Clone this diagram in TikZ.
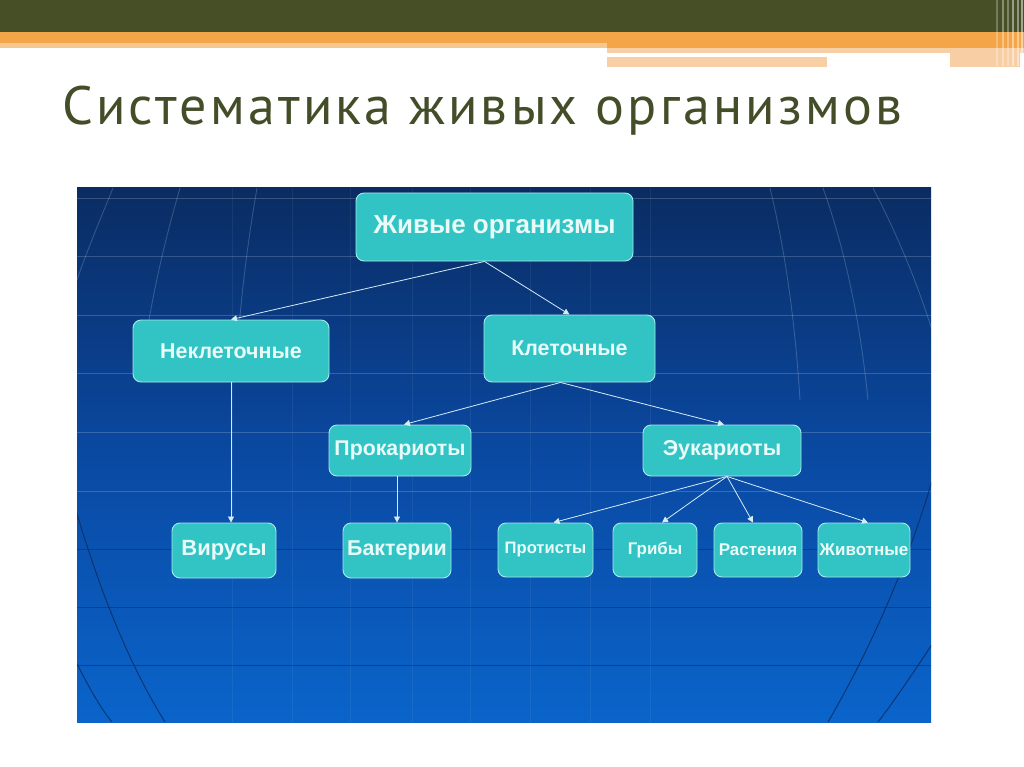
\documentclass[tikz,border=0pt]{standalone}
\usepackage{fontspec}
\usetikzlibrary{arrows.meta,calc}
\newfontfamily\titlefont[LetterSpace=6]{PT Sans}
\newfontfamily\boxfont{Liberation Sans}
\definecolor{olive}{HTML}{474F27}
\definecolor{titlecol}{HTML}{434D27}
\definecolor{orangeA}{HTML}{F4A547}
\definecolor{peach}{HTML}{F8CFA4}
\definecolor{navyTop}{HTML}{0A2C62}
\definecolor{navyMid}{HTML}{0A49A2}
\definecolor{navyBot}{HTML}{0A64CA}
\definecolor{boxfill}{HTML}{32C4C4}
\definecolor{boxline}{HTML}{A6EAEA}
\definecolor{boxtext}{HTML}{E9FBF8}
\definecolor{arrowcol}{HTML}{D6ECF4}
\tikzset{
  box/.style={draw=boxline, line width=0.9pt, fill=boxfill, rounded corners=8pt,
    text=boxtext, font=\boxfont\bfseries, inner sep=0pt, align=center},
  conn/.style={draw=arrowcol, line width=0.8pt, -{Triangle[length=6pt,width=6pt]}},
  gridlight/.style={draw=white, opacity=0.18, line width=0.9pt},
  griddark/.style={draw=navyTop, opacity=0.8, line width=1pt},
}
\begin{document}
\begin{tikzpicture}[x=1pt,y=-1pt]
\useasboundingbox (0,0) rectangle (1024,767);
\fill[white] (0,0) rectangle (1024,767);
% top bar
\fill[olive] (0,0) rectangle (1024,32);
\fill[orangeA] (0,32) rectangle (1024,43);
\fill[peach!80!orangeA] (0,43) rectangle (607,48);
\fill[orangeA] (607,43) rectangle (1024,48);
\fill[peach] (607,48) rectangle (1024,53);
\fill[peach] (607,57) rectangle (827,67);
\fill[peach] (950,53) rectangle (1020,67);
\foreach \x/\o in {997/0.25,1003/0.35,1008/0.3,1013/0.45,1018/0.4,1022/0.5}
  \draw[white, opacity=\o, line width=1.2pt] (\x,0) -- (\x,66);
% title
\node[anchor=base west, inner sep=0pt, text=titlecol, font=\titlefont\fontsize{54}{60}\selectfont]
  (title) at (62,125) {Систематика живых организмов};
% panel
\shade[top color=navyTop, bottom color=navyBot, middle color=navyMid] (77,188) rectangle (931,722);
\begin{scope}
\clip (77,188) rectangle (931,722);
\foreach \y in {198,256,315,373,432,491}
  \draw[gridlight] (77,\y) -- (931,\y);
\foreach \y in {549,607,665}
  \draw[griddark, opacity=0.5] (77,\y) -- (931,\y);
\foreach \x in {232,292,350,412,470,530,590,650}
  \draw[white, opacity=0.06, line width=0.8pt] (\x,188) -- (\x,722);
% meridians upper (light)
\draw[gridlight] (113,188) .. controls (100,220) and (85,255) .. (70,300);
\draw[gridlight] (180,188) .. controls (165,240) and (150,300) .. (140,380);
\draw[gridlight] (257,188) .. controls (248,240) and (240,300) .. (235,380);
\draw[gridlight] (770,188) .. controls (785,250) and (795,320) .. (800,400);
\draw[gridlight] (823,188) .. controls (845,250) and (860,320) .. (868,400);
\draw[gridlight] (873,188) .. controls (900,240) and (920,290) .. (935,340);
% meridians lower (dark)
\draw[griddark] (70,490) .. controls (90,560) and (120,650) .. (165,722);
\draw[griddark] (70,650) .. controls (85,680) and (98,705) .. (112,722);
\draw[griddark] (935,470) .. controls (910,560) and (870,650) .. (828,722);
\draw[griddark] (935,640) .. controls (915,670) and (895,700) .. (878,722);
\end{scope}
% nodes
\node[box, minimum width=277pt, minimum height=68pt, font=\boxfont\bfseries\fontsize{26}{29}\selectfont] (top) at (494.5,227) {Живые организмы};
\node[box, minimum width=196pt, minimum height=62pt, font=\boxfont\bfseries\fontsize{21.4}{25}\selectfont] (nonc) at (231,351) {Неклеточные};
\node[box, minimum width=171pt, minimum height=67pt, font=\boxfont\bfseries\fontsize{21.4}{25}\selectfont] (cell) at (569.5,348.5) {Клеточные};
\node[box, minimum width=142pt, minimum height=51pt, font=\boxfont\bfseries\fontsize{21.3}{25}\selectfont] (prok) at (400,450.5) {Прокариоты};
\node[box, minimum width=158pt, minimum height=51pt, font=\boxfont\bfseries\fontsize{21.6}{25}\selectfont] (euk) at (722,450.5) {Эукариоты};
\node[box, minimum width=104pt, minimum height=55pt, font=\boxfont\bfseries\fontsize{22}{26}\selectfont] (vir) at (224,550.5) {Вирусы};
\node[box, minimum width=108pt, minimum height=55pt, font=\boxfont\bfseries\fontsize{21.4}{25}\selectfont] (bak) at (397,550.5) {Бактерии};
\node[box, minimum width=95pt, minimum height=54pt, font=\boxfont\bfseries\fontsize{16.6}{20}\selectfont] (prot) at (545.5,550) {Протисты};
\node[box, minimum width=84pt, minimum height=54pt, font=\boxfont\bfseries\fontsize{16.9}{20}\selectfont] (grib) at (655,550) {Грибы};
\node[box, minimum width=88pt, minimum height=54pt, font=\boxfont\bfseries\fontsize{17}{20}\selectfont] (rast) at (758,550) {Растения};
\node[box, minimum width=92pt, minimum height=54pt, font=\boxfont\bfseries\fontsize{17}{20}\selectfont] (zhiv) at (864,550) {Животные};
% connectors
\draw[conn] ([xshift=-10pt]top.south) -- (nonc.north);
\draw[conn] ([xshift=-10pt]top.south) -- (cell.north);
\draw[conn] (nonc.south) -- (nonc.south |- vir.north);
\draw[conn] ([xshift=-9pt]cell.south) -- ([xshift=4pt]prok.north);
\draw[conn] ([xshift=-9pt]cell.south) -- ([xshift=2pt]euk.north);
\draw[conn] (bak.north |- prok.south) -- (bak.north);
\draw[conn] ([xshift=5pt]euk.south) -- ([xshift=8pt]prot.north);
\draw[conn] ([xshift=5pt]euk.south) -- ([xshift=7pt]grib.north);
\draw[conn] ([xshift=5pt]euk.south) -- ([xshift=-5pt]rast.north);
\draw[conn] ([xshift=5pt]euk.south) -- ([xshift=4pt]zhiv.north);
\end{tikzpicture}
\end{document}
